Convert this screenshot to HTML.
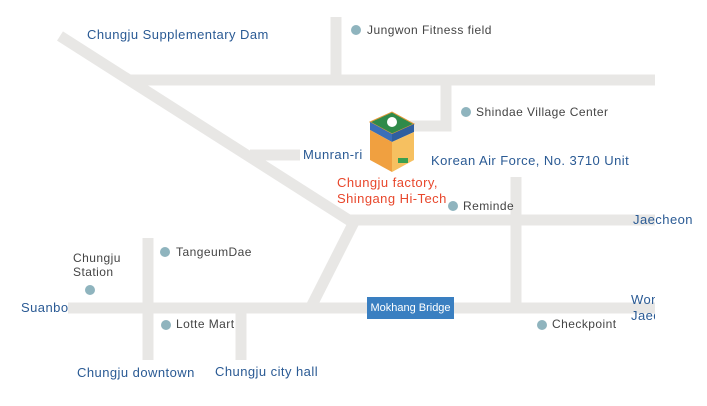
<!DOCTYPE html>
<html><head><style>
body{margin:0;width:707px;height:406px;background:#fff;overflow:hidden;position:relative;font-family:"Liberation Sans",sans-serif;}
.t{position:absolute;font-size:13px;white-space:nowrap;line-height:15px;letter-spacing:0.45px;}
.b{color:#2a5a94;}
.g{color:#444;font-size:12px;}
.d{position:absolute;width:10px;height:10px;border-radius:50%;background:#8fb4be;}
</style></head><body>
<svg width="707" height="406" style="position:absolute;left:0;top:0">
<g stroke="#e8e7e5" stroke-width="11" fill="none" stroke-linecap="butt">
<line x1="60" y1="36" x2="355" y2="224"/>
<line x1="130" y1="80" x2="655" y2="80"/>
<line x1="336" y1="17" x2="336" y2="80"/>
<polyline points="446,85 446,126 410,126"/>
<line x1="250" y1="155" x2="300" y2="155"/>
<line x1="350" y1="220" x2="655" y2="220"/>
<line x1="516" y1="177" x2="516" y2="303"/>
<line x1="355" y1="220" x2="312" y2="305"/>
<line x1="68" y1="308" x2="655" y2="308"/>
<line x1="148" y1="238" x2="148" y2="360"/>
<line x1="241" y1="313" x2="241" y2="360"/>
</g>
<g>
<polygon points="370,122 392,112 414,124 392,134" fill="#2f8a4a" stroke="#e49a3a"/>
<polygon points="370,122 392,134 392,142 370,130" fill="#3a6fb8"/>
<polygon points="392,134 414,124 414,132 392,142" fill="#2f5fa0"/>
<polygon points="370,130 392,142 392,172 370,160" fill="#f0a040"/>
<polygon points="392,142 414,132 414,160 392,172" fill="#f6c060"/>
<circle cx="392" cy="122" r="5" fill="#fff"/>
<rect x="398" y="158" width="10" height="5" fill="#3aa050"/>
</g>
</svg>
<div style="position:absolute;left:367px;top:297px;width:87px;height:22px;background:#3a7fc1;color:#fff;font-size:11px;line-height:22px;text-align:center;">Mokhang Bridge</div>
<div class="t b" style="left:87px;top:27px">Chungju Supplementary Dam</div>
<div class="d" style="left:351px;top:25px"></div><div class="t g" style="left:367px;top:23px">Jungwon Fitness field</div>
<div class="d" style="left:461px;top:107px"></div><div class="t g" style="left:476px;top:105px">Shindae Village Center</div>
<div class="t b" style="left:303px;top:147px">Munran-ri</div>
<div class="t b" style="left:431px;top:153px">Korean Air Force, No. 3710 Unit</div>
<div class="t" style="left:337px;top:175px;color:#e8472c;line-height:16px">Chungju factory,<br>Shingang Hi-Tech</div>
<div class="d" style="left:448px;top:201px"></div><div class="t g" style="left:463px;top:199px">Reminde</div>
<div class="t b" style="left:633px;top:212px">Jaecheon</div>
<div class="t g" style="left:73px;top:251px;line-height:14px">Chungju<br>Station</div>
<div class="d" style="left:85px;top:285px"></div>
<div class="d" style="left:160px;top:247px"></div><div class="t g" style="left:176px;top:245px">TangeumDae</div>
<div class="t b" style="left:21px;top:300px">Suanbo</div>
<div class="d" style="left:161px;top:320px"></div><div class="t g" style="left:176px;top:317px">Lotte Mart</div>
<div class="d" style="left:537px;top:320px"></div><div class="t g" style="left:552px;top:317px">Checkpoint</div>
<div class="t b" style="left:631px;top:292px;width:24px;overflow:hidden;line-height:16px">Wonju<br>Jaecheon</div>
<div class="t b" style="left:77px;top:365px">Chungju downtown</div>
<div class="t b" style="left:215px;top:364px">Chungju city hall</div>
</body></html>
